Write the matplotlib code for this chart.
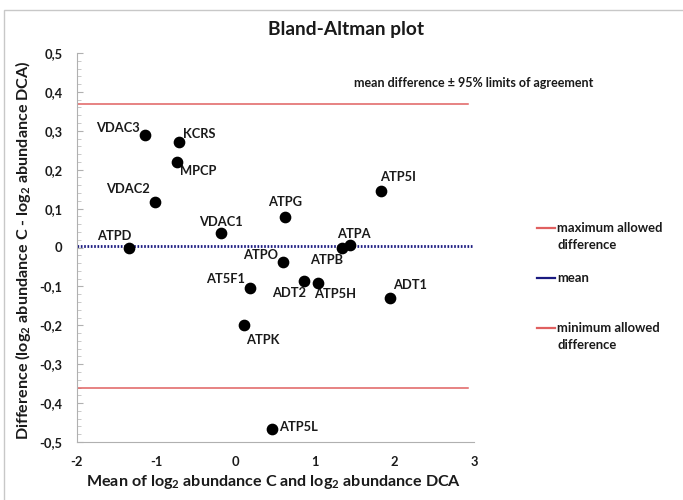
import matplotlib
matplotlib.use("Agg")
import matplotlib.pyplot as plt
from matplotlib.patches import Rectangle
from matplotlib.lines import Line2D
from matplotlib.ticker import MultipleLocator

plt.rcParams['font.family'] = ['Lato', 'DejaVu Sans']
plt.rcParams['font.weight'] = 'bold'
plt.rcParams['mathtext.fontset'] = 'custom'
plt.rcParams['mathtext.rm'] = 'Lato:bold'
plt.rcParams['mathtext.it'] = 'Lato:bold'
plt.rcParams['mathtext.bf'] = 'Lato:bold'

# ---- data ----
proteins = ["VDAC3", "KCRS", "MPCP", "VDAC2", "VDAC1", "ATPD", "ATPG", "ATPO",
            "ATPB", "ATPA", "ATP5I", "AT5F1", "ADT2", "ATP5H", "ADT1", "ATPK", "ATP5L"]
mean_vals = [-1.14, -0.71, -0.74, -1.01, -0.18, -1.34, 0.62, 0.60,
             1.34, 1.44, 1.83, 0.18, 0.86, 1.04, 1.94, 0.11, 0.455]
diff_vals = [0.290, 0.271, 0.220, 0.116, 0.038, 0.000, 0.078, -0.037,
             -0.002, 0.007, 0.144, -0.105, -0.086, -0.090, -0.131, -0.199, -0.467]

upper_limit = 0.370
mean_diff = 0.003
lower_limit = -0.360
limit_x = [-2, 2.93]
mean_x = [-2, 3.0]

x_ticks = [-2, -1, 0, 1, 2, 3]
x_tick_labels = ["-2", "-1", "0", "1", "2", "3"]
y_ticks = [0.5, 0.4, 0.3, 0.2, 0.1, 0.0, -0.1, -0.2, -0.3, -0.4, -0.5]
y_tick_labels = ["0,5", "0,4", "0,3", "0,2", "0,1", "0", "-0,1", "-0,2", "-0,3", "-0,4", "-0,5"]

legend_labels = [["maximum allowed", "difference"], ["mean"], ["minimum allowed", "difference"]]

# label placement (pixel offsets, alignment)
label_offsets = {
    "VDAC3": (-5, 7, 'right'), "KCRS": (4, 8, 'left'), "MPCP": (3, -9, 'left'),
    "VDAC2": (-5, 13, 'right'), "VDAC1": (0, 11, 'center'), "ATPD": (2, 12, 'right'),
    "ATPG": (0, 15, 'center'), "ATPO": (-5, 7, 'right'), "ATPB": (1, -12, 'right'),
    "ATPA": (4, 11, 'center'), "ATP5I": (-1, 14, 'left'), "AT5F1": (-5, 9, 'right'),
    "ADT2": (2, -12, 'right'), "ATP5H": (-4, -11, 'left'), "ADT1": (3, 13, 'left'),
    "ATPK": (2, -15, 'left'), "ATP5L": (7, 2, 'left'),
}

W, H = 683, 500
fig = plt.figure(figsize=(6.83, 5.0), dpi=100)
ax = fig.add_axes([76.5 / W, (H - 442) / H, (474 - 76.5) / W, (442 - 53) / H])

red = '#e06060'
blue = '#1a1a80'
txt = '#1a1a1a'

ax.plot(limit_x, [upper_limit, upper_limit], color=red, lw=1.1)
ax.plot(mean_x, [mean_diff, mean_diff], color=blue, lw=2.0, linestyle=(0, (0.6, 0.6)))
ax.plot(limit_x, [lower_limit, lower_limit], color=red, lw=1.1)

ax.scatter(mean_vals, diff_vals, s=55, color='black', zorder=5)

for name, xv, yv in zip(proteins, mean_vals, diff_vals):
    dx, dy, ha = label_offsets[name]
    ax.annotate(name, (xv, yv), xytext=(dx * 0.72, dy * 0.72), textcoords='offset points',
                ha=ha, va='center', fontsize=9.3, fontweight='bold', color=txt)

fig.text(354 / W, 1 - 83 / H, "mean difference \u00b1 95% limits of agreement", fontsize=9,
         fontweight='bold', ha='left', va='center', color=txt)

ax.set_xlim(-2, 3)
ax.set_ylim(-0.5, 0.5)
ax.set_xticks(x_ticks)
ax.set_xticklabels(x_tick_labels)
ax.set_yticks(y_ticks)
ax.set_yticklabels(y_tick_labels)
ax.yaxis.set_minor_locator(MultipleLocator(0.02))
ax.tick_params(axis='x', length=0, pad=10, labelsize=9.3, colors=txt)
ax.tick_params(axis='y', which='major', direction='in', length=4, pad=10, labelsize=9.3,
               colors=txt, color='#b0b0b0')
ax.tick_params(axis='y', which='minor', direction='in', length=3, color='#c0c0c0')
for lab in ax.get_xticklabels() + ax.get_yticklabels():
    lab.set_fontweight('bold')
    lab.set_color(txt)

ax.spines['top'].set_visible(False)
ax.spines['right'].set_visible(False)
ax.spines['left'].set_color('#b0b0b0')
ax.spines['bottom'].set_color('#b0b0b0')

fig.text(274 / W, 1 - 482 / H, "Mean of log$_2$ abundance C and log$_2$ abundance DCA",
         ha='center', va='center', fontsize=11.6, fontweight='bold', color=txt)
fig.text(23 / W, 1 - 250 / H, "Difference (log$_2$ abundance C - log$_2$ abundance DCA)",
         ha='center', va='center', rotation=90, fontsize=11.6, fontweight='bold', color=txt)
fig.text(346 / W, 1 - 30 / H, "Bland-Altman plot", ha='center', va='center',
         fontsize=13.8, fontweight='bold', color=txt)

# manual legend
legend_colors = [red, blue, red]
legend_rows = [228, 278, 328]
for lines, col, yrow in zip(legend_labels, legend_colors, legend_rows):
    fig.add_artist(Line2D([536.5 / W, 555 / W], [1 - yrow / H, 1 - yrow / H], color=col, lw=1.6,
                          transform=fig.transFigure))
    for i, s in enumerate(lines):
        fig.text(557 / W, 1 - (yrow + 17 * i) / H, s, ha='left', va='center', fontsize=9.4,
                 fontweight='bold', color=txt)

fig.patches.append(Rectangle((4 / W, -0.01), 1.0, 1 - 10 / H + 0.01, transform=fig.transFigure,
                             fill=False, edgecolor='#c8c8c8', lw=1.0))

fig.savefig("out.png", dpi=100)
